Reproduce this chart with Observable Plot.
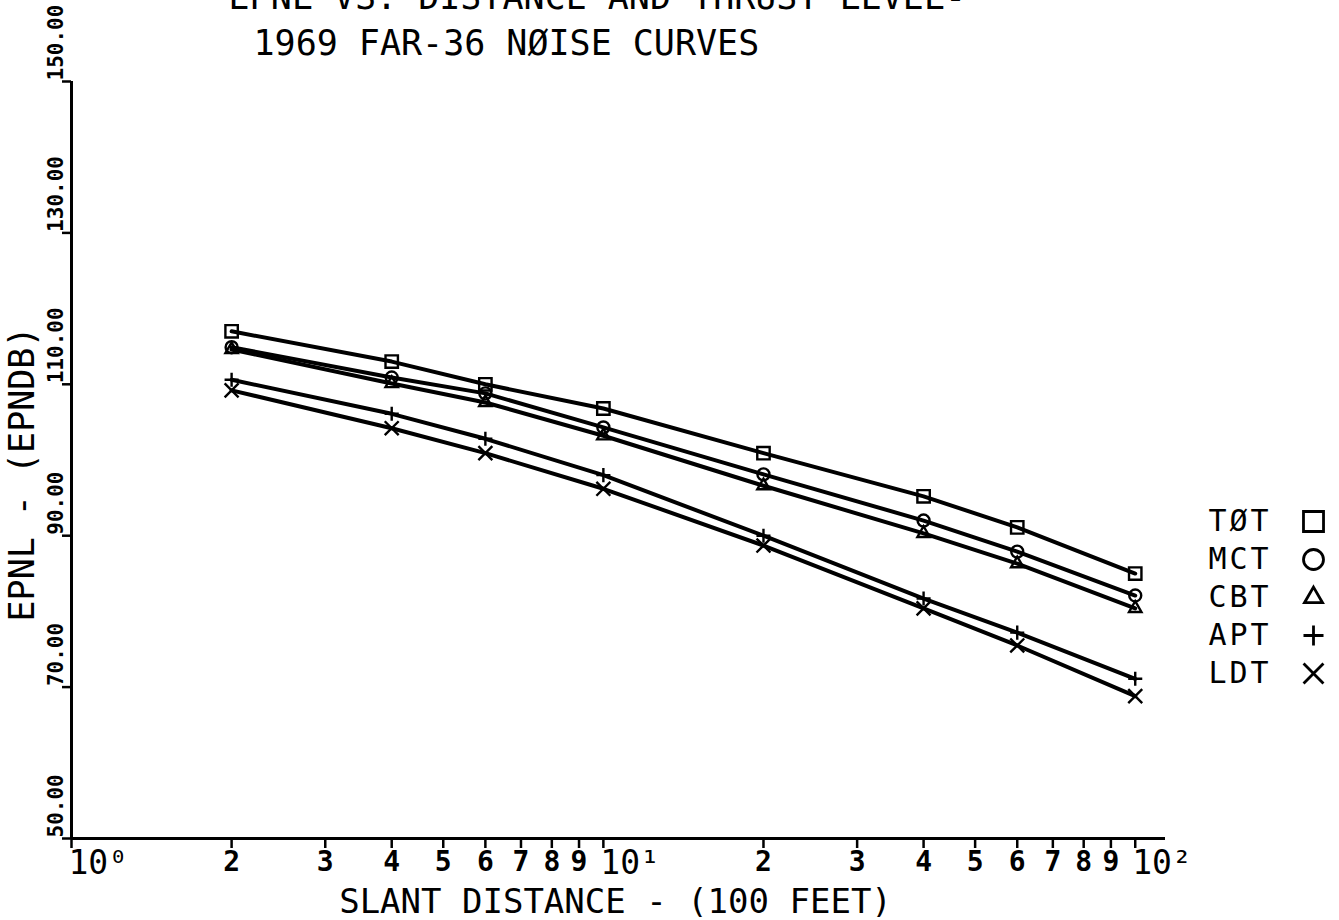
<!DOCTYPE html>
<html>
<head>
<meta charset="utf-8">
<script src="https://cdn.jsdelivr.net/npm/d3@7"></script>
<script src="https://cdn.jsdelivr.net/npm/@observablehq/plot@0.6"></script>
<style>
  html, body { margin: 0; padding: 0; background: #fff; }
  #wrap { position: relative; width: 1339px; height: 920px; overflow: hidden; background: #fff; }
  #chart { position: absolute; left: 0; top: 0; }
  #legend { position: absolute; left: 1190px; top: 500px; }
  #legend text { letter-spacing: 3px; }
</style>
</head>
<body>
<div id="wrap">
  <div id="chart"></div>
  <div id="legend"></div>
</div>
<script>
// ---- data ----
const distances = [2, 4, 6, 10, 20, 40, 60, 100];   // slant distance, 100 ft
const seriesNames = ["TØT", "MCT", "CBT", "APT", "LDT"];
const totValues = [117.0, 113.0, 110.0, 106.8, 100.9, 95.2, 91.1, 85.0];
const mctValues = [114.9, 110.9, 108.8, 104.3, 98.1, 92.0, 87.9, 82.1];
const cbtValues = [114.6, 110.1, 107.6, 103.2, 96.6, 90.3, 86.3, 80.4];
const aptValues = [110.6, 106.1, 102.8, 98.0, 90.0, 81.7, 77.2, 71.1];
const ldtValues = [109.2, 104.2, 100.9, 96.2, 88.7, 80.4, 75.5, 68.8];

const yTicks = [50, 70, 90, 110, 130, 150];
const xMajorTicks = [1, 10, 100];
const xMinorTicks = [2, 3, 4, 5, 6, 7, 8, 9, 20, 30, 40, 50, 60, 70, 80, 90];

const titleLine1 = "EPNL VS. DISTANCE AND THRUST LEVEL-";
const titleLine2 = "1969 FAR-36 NØISE CURVES";
const xLabel = "SLANT DISTANCE - (100 FEET)";
const yLabel = "EPNL - (EPNDB)";

// ---- styles ----
const font = "'DejaVu Sans Mono', 'Liberation Mono', monospace";
const markerStyle = {
  "TØT": {symbol: "square", r: 7, legendR: 11.3},
  "MCT": {symbol: "circle", r: 6, legendR: 10},
  "CBT": {symbol: "triangle", r: 4.6, legendR: 6.7},
  "APT": {symbol: "plus", r: 4.6, legendR: 6.5},
  "LDT": {symbol: "times", r: 6.4, legendR: 9.1}
};

const allValues = [totValues, mctValues, cbtValues, aptValues, ldtValues];
const rows = seriesNames.flatMap((s, i) =>
  distances.map((d, j) => ({series: s, distance: d, epnl: allValues[i][j]})));

const sup = {0: "\u2070", 1: "\u00B9", 2: "\u00B2"};

const dotMarks = seriesNames.map(s =>
  Plot.dot(rows.filter(r => r.series === s), {
    x: "distance", y: "epnl", symbol: () => markerStyle[s].symbol,
    r: markerStyle[s].r, stroke: "black", fill: "none", strokeWidth: 2.4
  }));

const chart = Plot.plot({
  width: 1339,
  height: 920,
  marginLeft: 71,
  marginRight: 174,
  marginTop: 81,
  marginBottom: 82,
  style: {fontFamily: font, color: "black", background: "white", overflow: "visible"},
  symbol: {type: "identity"},
  x: {type: "log", domain: [1, 114]},
  y: {domain: [50, 150]},
  marks: [
    Plot.axisX(xMajorTicks.concat(xMinorTicks), {anchor: "bottom", tickSize: 10, strokeWidth: 2.5, fill: "none", label: null}),
    Plot.axisY(yTicks, {anchor: "left", tickSize: 9, strokeWidth: 2.5, fill: "none", label: null}),
    Plot.ruleX([1], {strokeWidth: 3}),
    Plot.ruleY([50], {strokeWidth: 3}),
    // x tick labels
    Plot.text(xMinorTicks, {
      x: d => d, text: d => String(Math.round(d / Math.pow(10, Math.floor(Math.log10(d))))),
      frameAnchor: "bottom", dy: 32, lineAnchor: "bottom", fontSize: 28, fontWeight: "bold"
    }),
    Plot.text(xMajorTicks, {
      x: d => d, text: d => "10" + sup[Math.round(Math.log10(d))],
      frameAnchor: "bottom", textAnchor: "start", dx: -3, dy: 35, lineAnchor: "bottom", fontSize: 33
    }),
    // y tick labels
    Plot.text(yTicks, {
      y: d => d, text: d => d.toFixed(2), frameAnchor: "left", dx: -9, dy: -1,
      rotate: -90, textAnchor: "start", lineAnchor: "bottom", fontSize: 21, fontWeight: "bold"
    }),
    // axis titles
    Plot.text([yLabel], {
      text: d => d, frameAnchor: "left", dx: -38, dy: 14, rotate: -90,
      textAnchor: "middle", lineAnchor: "bottom", fontSize: 35
    }),
    Plot.text([xLabel], {
      text: d => d, frameAnchor: "bottom", dx: -3, dy: 74, lineAnchor: "bottom", fontSize: 34
    }),
    // title (top line is cut off by the page edge as in the original)
    Plot.text([titleLine1], {
      text: d => d, frameAnchor: "top-left", dx: 157, dy: -73, textAnchor: "start", lineAnchor: "bottom", fontSize: 35
    }),
    Plot.text([titleLine2], {
      text: d => d, frameAnchor: "top-left", dx: 182, dy: -27, textAnchor: "start", lineAnchor: "bottom", fontSize: 35
    }),
    // curves
    Plot.line(rows, {x: "distance", y: "epnl", z: "series", stroke: "black", strokeWidth: 4, strokeLinejoin: "round"}),
    ...dotMarks
  ]
});
document.getElementById("chart").appendChild(chart);

// ---- legend ----
const legendDots = seriesNames.map(s =>
  Plot.dot([s], {
    y: d => d, frameAnchor: "left", dx: 123, symbol: () => markerStyle[s].symbol,
    r: markerStyle[s].legendR, stroke: "black", fill: "none", strokeWidth: 2.8
  }));
const legend = Plot.plot({
  width: 149,
  height: 200,
  marginTop: 21,
  marginBottom: 27,
  marginLeft: 0,
  marginRight: 0,
  style: {fontFamily: font, color: "black", background: "transparent", overflow: "visible"},
  symbol: {type: "identity"},
  y: {type: "point", domain: seriesNames, padding: 0, axis: null},
  marks: [
    Plot.text(seriesNames, {
      y: d => d, text: d => d, frameAnchor: "left", dx: 18, textAnchor: "start",
      lineAnchor: "middle", fontSize: 30
    }),
    ...legendDots
  ]
});
document.getElementById("legend").appendChild(legend);
</script>
</body>
</html>
